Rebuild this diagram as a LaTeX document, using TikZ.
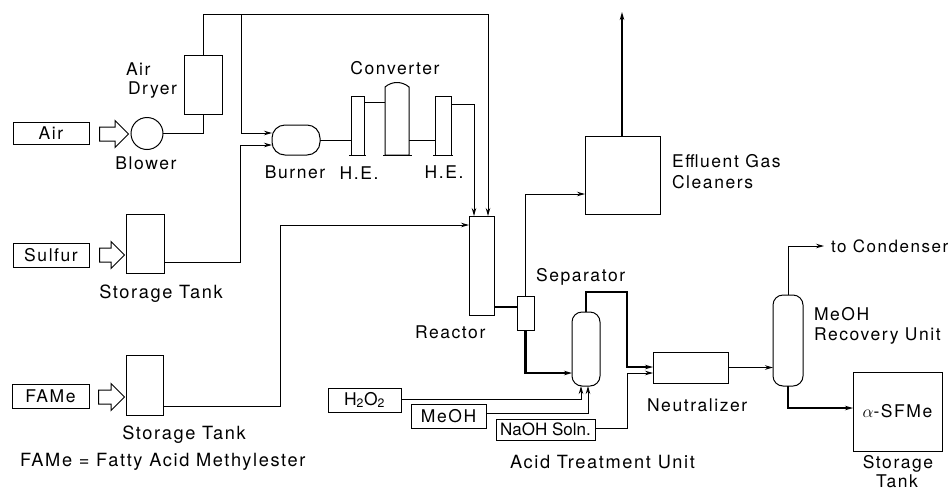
\documentclass[tikz,border=0pt]{standalone}
\usepackage{fontspec}
\usepackage{amsmath}
\setmainfont[LetterSpace=9]{TeX Gyre Heros}
\newfontfamily\tightfont{TeX Gyre Heros}
\usetikzlibrary{arrows.meta,shapes.arrows}
\begin{document}
\begin{tikzpicture}[x=1pt,y=-1pt,line width=1pt,>={Stealth[length=8pt,width=4.5pt]},
    every node/.style={inner sep=0,outer sep=0,font=\fontsize{17.5}{20}\selectfont},
    wide/.style={font=\fontsize{18.2}{20}\selectfont},
    tight/.style={font=\tightfont\fontsize{17}{20}\selectfont},
    unit/.style={draw,minimum width=#1},
    vessel/.style={draw,minimum width=#1,rounded corners=10pt},
    hollow/.style={draw,single arrow,single arrow head extend=6.5pt,single arrow head indent=0pt,inner ysep=6.5pt,minimum height=#1},
    heavy/.style={line width=2.2pt}]
        \useasboundingbox (0,0) rectangle (952,491);
        \node[unit=76,minimum height=22] (air) at (51,133) {Air};
        \node[unit=76,minimum height=24] (sulfur) at (51,255) {Sulfur};
        \node[unit=77,minimum height=24] (fame) at (50.5,396) {FAMe};
        \node[hollow=29] (airin) at (110.5,134) {};
        \node[hollow=25] (sulfurin) at (108.5,255) {};
        \node[hollow=26] (famein) at (108,397) {};
        \node[draw,circle,minimum size=32] (blower) at (147,133.5) {};
        \node[unit=38,minimum height=59] (dryer) at (203,84.5) {};
        \node[unit=38,minimum height=59] (tank1) at (145,243.5) {};
        \node[unit=37,minimum height=60] (tank2) at (144.5,385) {};
        \node[draw,minimum width=48,minimum height=30,rounded corners=13pt] (burner) at (296,140) {};
        \node[unit=13,minimum height=59] (he1) at (357.5,125.5) {};
        \node[minimum width=24,minimum height=68] (conv) at (397,121) {};
        \node[unit=16,minimum height=59] (he2) at (443,125.5) {};
        \node[unit=25,minimum height=99] (reactor) at (481.5,265.5) {};
        \node[unit=75,minimum height=78] (cleaner) at (622.5,175) {};
        \node[unit=17,minimum height=34] (sepbox) at (525.5,313) {};
        \node[vessel=28,minimum height=74] (sep) at (586,349) {};
        \node[unit=75,minimum height=31] (neut) at (690.5,367.5) {};
        \node[vessel=30,minimum height=91] (recovery) at (788,340.5) {};
        \node[unit=89,minimum height=79] (product) at (897.5,411.5) {$\alpha$-SFMe};
        \node[unit=73,minimum height=24] (peroxide) at (364.5,400) {H\textsubscript{2}O\textsubscript{2}};
        \node[unit=75,minimum height=24] (meoh) at (448.5,416) {MeOH};
        \node[unit=99,minimum height=21,tight] (naoh) at (545.5,429.5) {NaOH Soln.};
        \coordinate (branch) at (241,14);
        \coordinate (top) at (488,14);
        \coordinate (vent) at (622,12);
        \draw (conv.north west) .. controls (392,81) and (402,81) .. (conv.north east) -- (conv.south east) -- (conv.south west) -- cycle;
        \draw ([xshift=-2pt]he1.south west) -- ([xshift=2pt]he1.south east);
        \draw ([xshift=-2pt]conv.south west) -- ([xshift=3pt]conv.south east);
        \draw ([xshift=-2pt]he2.south west) -- ([xshift=2pt]he2.south east);
        \draw (blower.east) -| (dryer.south);
        \draw[->] (dryer.north) |- (top) -- (top |- reactor.north);
        \draw[->] (branch) |- (burner.west |- 0,133);
        \draw[->] (tank1.east |- 0,262) -- (240,262) -- (240,145) -- (burner.west |- 0,145);
        \draw (burner.east) -- (he1.west |- burner.east);
        \draw (he1.east |- 0,102) -- (conv.west |- 0,102);
        \draw (conv.east |- 0,140) -- (he2.west |- 0,140);
        \draw[->] (he2.east |- 0,104) -- (474,104) -- (474,0 |- reactor.north);
        \draw[->] (tank2.east |- 0,406) -- (280,406) -- (280,225) -- (reactor.west |- 0,225);
        \draw[heavy] (reactor.east |- 0,307) -- (sepbox.west |- 0,307);
        \draw[->] (sepbox.north) |- (cleaner.west |- 0,194);
        \draw[->,line width=1.5pt] (cleaner.north -| vent) -- (vent);
        \draw[heavy,->] (sepbox.south) |- (sep.west |- 0,373);
        \draw[heavy,->] (sep.north) |- (627,292) -- (627,367) -- (neut.west |- 0,367);
        \draw[->] (naoh.east |- 0,428) -- (627,428) -- (627,373) -- (neut.west |- 0,373);
        \draw[->] (peroxide.east |- 0,399) -- (581,399) -- (581,0 |- sep.south);
        \draw[->] (meoh.east |- 0,413) -- (588,413) -- (588,0 |- sep.south);
        \draw[->,line width=1.6pt] (neut.east) -- (recovery.west |- neut.east);
        \node[anchor=west,font=\fontsize{17}{20}\selectfont] (condenser) at (831,246) {to Condenser};
        \draw[->] (recovery.north) |- ([xshift=-7pt]condenser.west);
        \draw[heavy,->] (recovery.south) |- (product.west |- 0,408);
        \node[anchor=west] (airlabel) at (126,69) {Air};
        \node[anchor=west] (dryerlabel) at (128,90) {Dryer};
        \node (blowerlabel) at (146,163) {Blower};
        \node (convlabel) at (395,68) {Converter};
        \node (burnerlabel) at (295,172) {Burner};
        \node (he1label) at (359,173) {H.E.};
        \node (he2label) at (444,172) {H.E.};
        \node[wide] (tank1label) at (161,294) {Storage Tank};
        \node[wide] (tank2label) at (184,435) {Storage Tank};
        \node[anchor=west,wide] (note) at (20,462) {FAMe = Fatty Acid Methylester};
        \node[anchor=west] (reactorlabel) at (415,332) {Reactor};
        \node[anchor=west] (seplabel) at (536,277) {Separator};
        \node[anchor=west] (neutlabel) at (647,405) {Neutralizer};
        \node[anchor=west,wide] (acidlabel) at (510,462) {Acid Treatment Unit};
        \node[anchor=west] (gaslabel) at (672,161) {Effluent Gas};
        \node[anchor=west] (cleanerlabel) at (672,182) {Cleaners};
        \node[anchor=west] (meohlabel) at (814,314) {MeOH};
        \node[anchor=west] (recoverylabel) at (814,336) {Recovery Unit};
        \node (storelabel) at (898,464) {Storage};
        \node (tanklabel) at (897,481) {Tank};
      \end{tikzpicture}
\end{document}
